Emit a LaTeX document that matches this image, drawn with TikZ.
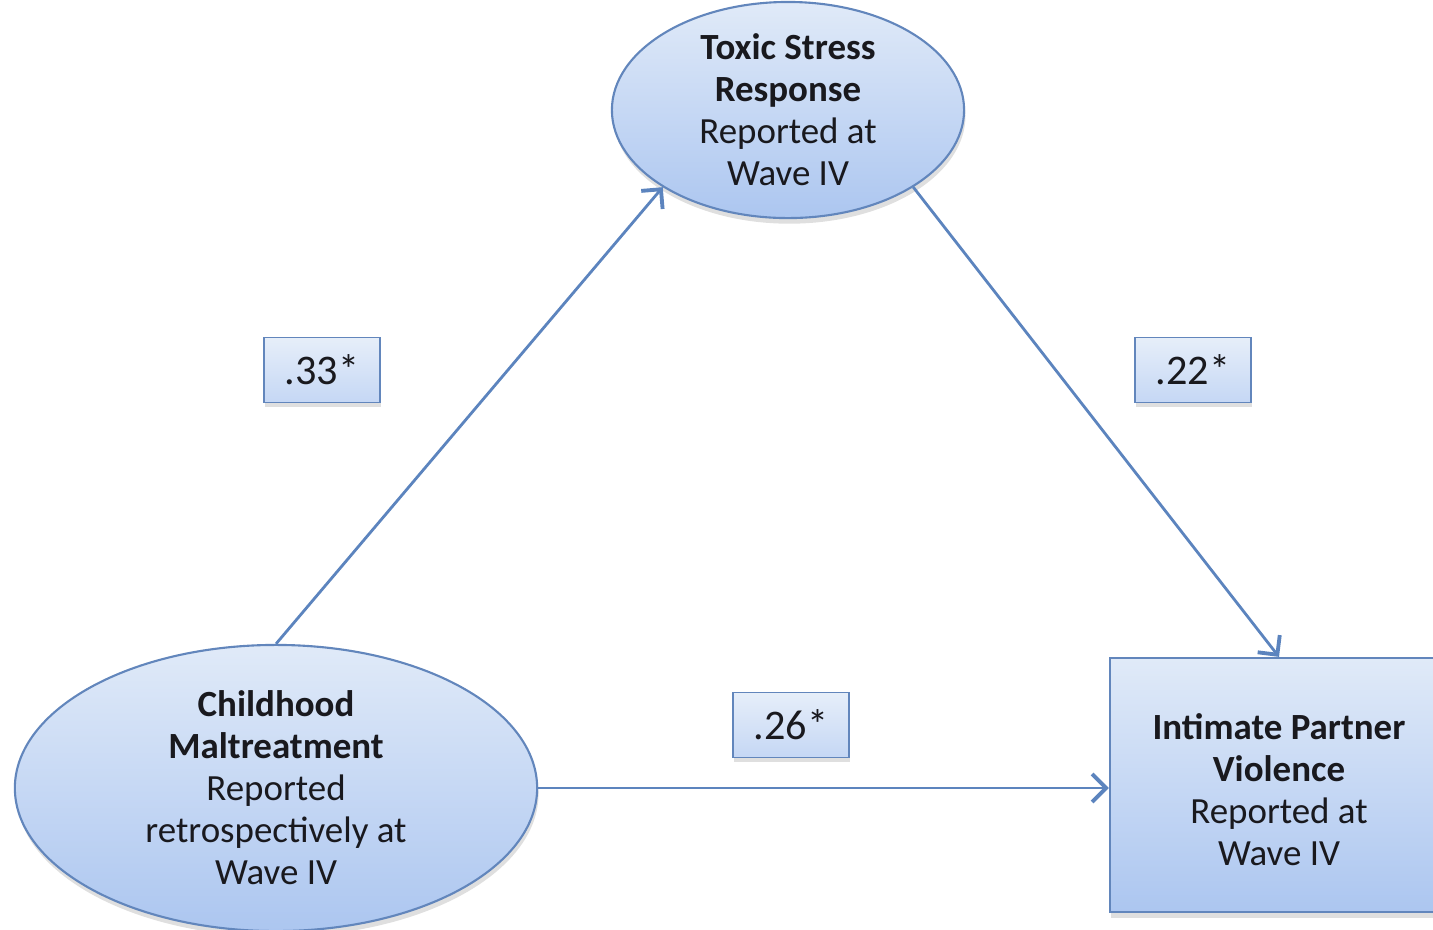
\documentclass[tikz,border=0pt]{standalone}
\usepackage{fontspec}
\setmainfont{Carlito}
\usetikzlibrary{positioning,shapes.geometric,shadows,arrows.meta}

\definecolor{varfill-top}{RGB}{224,234,248}
\definecolor{varfill-bot}{RGB}{172,198,240}
\definecolor{varline}{RGB}{98,134,188}
\definecolor{pathline}{RGB}{92,132,190}
\definecolor{vartext}{RGB}{25,25,30}

\begin{document}
\begin{tikzpicture}[
  x=.01cm, y=-.01cm,
  var/.style={
    draw=varline, line width=.6pt, align=center, text=vartext,
    top color=varfill-top, bottom color=varfill-bot,
    drop shadow={shadow xshift=.4pt, shadow yshift=-1.6pt, opacity=.25},
    font=\fontsize{10.5}{11.95}\selectfont
  },
  oval/.style={var, shape=ellipse, inner sep=0pt},
  coef/.style={
    draw=varline, line width=.5pt, text=vartext,
    top color=varfill-top!80!white, bottom color=varfill-bot!70!white,
    drop shadow={shadow xshift=.4pt, shadow yshift=-1.2pt, opacity=.25},
    minimum width=1.16cm, minimum height=.65cm, inner sep=0pt,
    font=\fontsize{12}{14}\selectfont
  },
  path/.style={draw=pathline, line width=.8pt,
    -{Straight Barb[length=1.4mm, width=2.8mm, line width=1.1pt]}}
]

  \useasboundingbox (0,0) rectangle (1433,929);
  \clip (0,0) rectangle (1433,929);

  \node[oval, minimum width=3.52cm, minimum height=2.16cm] (var-tsr) at (788,110)
    {\textbf{Toxic Stress}\\ \textbf{Response}\\ Reported at\\ Wave IV};
  \node[oval, minimum width=5.22cm, minimum height=2.86cm] (var-cm) at (276,788)
    {\textbf{Childhood}\\ \textbf{Maltreatment}\\ Reported\\ retrospectively at\\ Wave IV};
  \node[var, shape=rectangle, minimum width=3.6cm, minimum height=2.54cm] (var-ipv) at (1290,785) {};
  \node[align=center, text=vartext, font=\fontsize{10.5}{11.95}\selectfont] (var-ipv-text) at (1279,790)
    {\textbf{Intimate Partner}\\ \textbf{Violence}\\ Reported at\\ Wave IV};

  \node[coef] (coef-a) at (322,370) {.33*};
  \node[coef] (coef-b) at (1193,370) {.22*};
  \node[coef] (coef-c) at (791,725) {.26*};

  \draw[path] (var-cm.north) -- (var-tsr.south west);
  \draw[path] (var-tsr.south east) -- (var-ipv-text.north |- var-ipv.north);
  \draw[path] (var-cm.east) -- (var-cm.east -| var-ipv.west);

\end{tikzpicture}
\end{document}
